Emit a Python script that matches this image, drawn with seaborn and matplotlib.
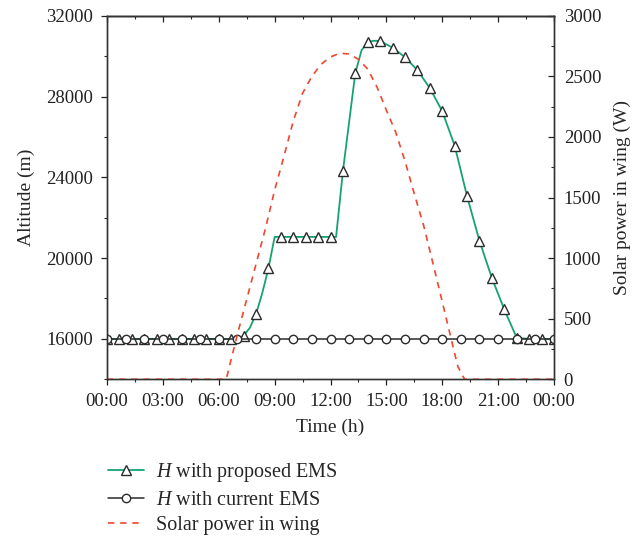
import matplotlib
matplotlib.use("Agg")
import seaborn as sns
from matplotlib import pyplot as plt
from matplotlib.ticker import FixedLocator, MultipleLocator

# time in hours; proposed EMS altitude (m)
prop_time = [0, 0.67, 1.33, 2, 2.67, 3.33, 4, 4.67, 5.33, 6, 6.67, 7.0, 7.33, 7.67,
             8, 8.33, 8.67, 9.0, 9.33, 10, 10.67, 11.33, 12, 12.3, 12.67, 13.33,
             13.67, 14, 14.3, 14.67, 15.33, 16, 16.67, 17.33, 18, 18.67, 19.33,
             20, 20.67, 21.33, 22, 22.67, 23.33, 24]
prop_alt = [16000, 16000, 16000, 16000, 16000, 16000, 16000, 16000, 16000, 16000,
            16000, 16000, 16150, 16550, 17220, 18250, 19500, 21050, 21050, 21050,
            21050, 21050, 21050, 21050, 24330, 29150, 30300, 30680, 30760, 30750,
            30420, 29950, 29300, 28420, 27270, 25560, 23070, 20850, 19000, 17460,
            16050, 16000, 16000, 16000]

# current EMS altitude, hourly
cur_time = list(range(25))
cur_alt = [16000] * 25

# solar power in wing (W)
solar_time = [0, 6.4, 7.0, 7.5, 8.0, 8.5, 9.0, 9.5, 10.0, 10.5, 11.0, 11.5, 12.0,
              12.5, 13.0, 13.5, 14.0, 14.5, 15.0, 15.5, 16.0, 16.5, 17.0, 17.5,
              18.0, 18.5, 18.84, 19.2, 24]
solar_power = [0, 0, 370, 660, 950, 1240, 1560, 1840, 2130, 2360, 2500, 2600, 2660,
               2690, 2685, 2640, 2560, 2410, 2220, 2040, 1800, 1530, 1270, 957,
               640, 320, 104, 0, 0]

x_ticks = [0, 3, 6, 9, 12, 15, 18, 21, 24]
x_labels = ["00:00", "03:00", "06:00", "09:00", "12:00", "15:00", "18:00", "21:00", "00:00"]

sns.set_style("ticks")
plt.rcParams["font.family"] = ["Liberation Serif", "DejaVu Serif"]
plt.rcParams["mathtext.fontset"] = "custom"
plt.rcParams["mathtext.rm"] = "Liberation Serif"
plt.rcParams["mathtext.it"] = "Liberation Serif:italic"

green = "#17a274"
red = "#f0462e"
dark = "#2b2b2b"

fig = plt.figure(figsize=(6.34, 5.37), dpi=100)
ax = fig.add_axes([0.1688, 0.2937, 0.705, 0.677])
ax2 = ax.twinx()

# markers only at the 40-minute samples
mark = [abs(t * 3 - round(t * 3)) < 0.05 and round(t * 3) % 2 == 0 for t in prop_time]

sns.lineplot(x=prop_time, y=prop_alt, ax=ax, color=green, lw=1.3,
             marker="^", markevery=mark, markersize=7.5, markerfacecolor="white",
             markeredgecolor=dark, markeredgewidth=1.0, label="$H$ with proposed EMS")
sns.lineplot(x=cur_time, y=cur_alt, ax=ax, color=dark, lw=1.1,
             marker="o", markersize=6, markerfacecolor="white",
             markeredgecolor=dark, markeredgewidth=1.0, label="$H$ with current EMS")
sns.lineplot(x=solar_time, y=solar_power, ax=ax2, color=red, lw=1.2,
             linestyle=(0, (3.8, 3.5)), label="Solar power in wing")

ax.set_xlim(0, 24)
ax.set_ylim(14000, 32000)
ax2.set_ylim(0, 3000)

ax.xaxis.set_major_locator(FixedLocator(x_ticks))
ax.set_xticklabels(x_labels)
ax.xaxis.set_minor_locator(MultipleLocator(1.5))
ax.yaxis.set_major_locator(FixedLocator([16000, 20000, 24000, 28000, 32000]))
ax.yaxis.set_minor_locator(MultipleLocator(2000))
ax2.yaxis.set_major_locator(MultipleLocator(500))
ax2.yaxis.set_minor_locator(MultipleLocator(250))

ax.tick_params(which="major", direction="out", length=4, width=0.9, labelsize=13.5,
               colors="#222222", pad=6)
ax.tick_params(which="minor", direction="out", length=2.2, width=0.8)
ax2.tick_params(which="major", direction="in", length=4, width=0.9, labelsize=13.5,
                colors="#222222", pad=7)
ax2.tick_params(which="minor", direction="in", length=2.2, width=0.8)

top = ax.secondary_xaxis("top")
top.xaxis.set_major_locator(FixedLocator(x_ticks))
top.xaxis.set_minor_locator(MultipleLocator(1.5))
top.tick_params(which="major", direction="in", length=4, width=0.9, labeltop=False)
top.tick_params(which="minor", direction="in", length=2.2, width=0.8)
top.spines["top"].set_linewidth(1.0)

for a in (ax, ax2):
    for s in a.spines.values():
        s.set_linewidth(1.0)
        s.set_color("#333333")

ax.set_xlabel("Time (h)", fontsize=14, labelpad=6)
ax.set_ylabel("Altitude (m)", fontsize=14, labelpad=8)
ax2.set_ylabel("Solar power in wing (W)", fontsize=14, labelpad=9)

h1, l1 = ax.get_legend_handles_labels()
h2, l2 = ax2.get_legend_handles_labels()
ax.get_legend().remove()
ax2.get_legend().remove()
fig.legend(h1 + h2, l1 + l2, loc="upper left", bbox_to_anchor=(0.157, 0.156),
           frameon=False, fontsize=14.5, handlelength=1.8, labelspacing=0.32,
           handletextpad=0.6, borderaxespad=0)

fig.savefig("out.png", dpi=100)
